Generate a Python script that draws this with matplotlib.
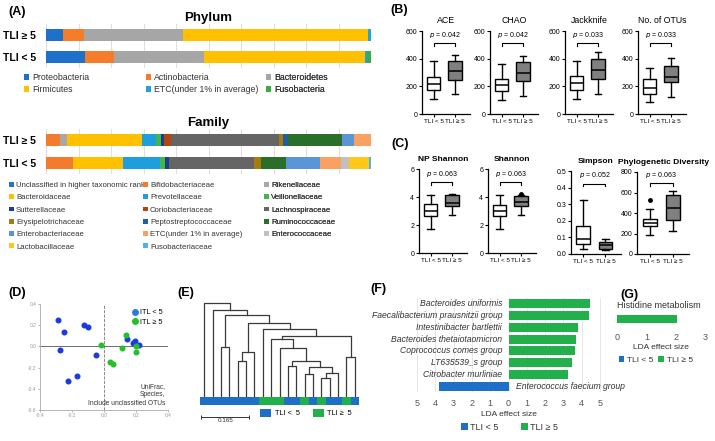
import matplotlib.pyplot as plt
from matplotlib.patches import Patch
from matplotlib.lines import Line2D

plt.rcParams['font.family'] = ['Liberation Sans', 'DejaVu Sans']

# -------------------------------
# DATA
# -------------------------------
groups = ["TLI < 5", "TLI ≥ 5"]
blue, green = "#1f6fc8", "#21b04b"

# (A) relative abundance (%)
phylum_names = ["Proteobacteria", "Actinobacteria", "Bacteroidetes",
                "Firmicutes", "ETC(under 1% in average)", "Fusobacteria"]
phylum_colors = ["#1f70c8", "#f57c2b", "#a6a6a6", "#ffc000", "#1fa2e0", "#3daa48"]
phylum_lt5 = [12.0, 8.9, 27.7, 49.5, 0.6, 1.2]
phylum_ge5 = [5.1, 6.5, 30.7, 56.9, 0.8, 0.0]

family_names = ["Unclassified in higher taxonomic rank", "Bifidobacteriaceae", "Rikenellaceae",
                "Bacteroidaceae", "Prevotellaceae", "Veillonellaceae",
                "Sutterellaceae", "Coriobacteriaceae", "Lachnospiraceae",
                "Erysipelotrichaceae", "Peptostreptococcaceae", "Ruminococcaceae",
                "Enterobacteriaceae", "ETC(under 1% in average)", "Enterococcaceae",
                "Lactobacillaceae", "Fusobacteriaceae"]
family_colors = ["#2a74c8", "#f47b2b", "#a8a8a8", "#ffc000", "#1e9fdc", "#44b549",
                 "#1b3f8b", "#b5440e", "#656565", "#a57c10", "#1f5fa0", "#2a6e2a",
                 "#5b95d8", "#f9a160", "#c0c0c0", "#ffc71a", "#4eb3e8"]
family_lt5 = [0, 8.3, 0, 15.3, 11.4, 1.5, 1.3, 0, 26.1, 2.3, 0, 7.6, 10.6, 6.5, 2.3, 6.2, 0.8]
family_ge5 = [0, 4.3, 2.1, 23.1, 4.2, 1.7, 0.9, 2.2, 33.1, 1.3, 1.6, 16.7, 3.6, 5.1, 0, 0, 0]

# (B)/(C) box summaries: [whislo, q1, med, q3, whishi]
b_titles = ["ACE", "CHAO", "Jackknife", "No. of OTUs"]
b_lt5 = [[110, 170, 220, 265, 380], [100, 165, 210, 255, 360],
         [110, 175, 225, 275, 385], [85, 145, 190, 250, 335]]
b_ge5 = [[145, 245, 310, 380, 430], [130, 240, 295, 375, 420],
         [145, 255, 315, 395, 450], [125, 230, 265, 350, 405]]
b_pvals = ["0.042", "0.042", "0.033", "0.033"]
b_bracket = [510, 510, 510, 510]

c_titles = ["NP Shannon", "Shannon", "Simpson", "Phylogenetic Diversity"]
c_lt5 = [[1.7, 2.65, 3.0, 3.5, 4.15], [1.7, 2.65, 3.0, 3.45, 4.15],
         [0.028, 0.06, 0.09, 0.17, 0.325], [185, 275, 305, 345, 435]]
c_ge5 = [[2.75, 3.35, 3.6, 4.15, 4.25], [2.75, 3.35, 3.65, 4.05, 4.15],
         [0.025, 0.033, 0.055, 0.07, 0.09], [225, 335, 450, 575, 610]]
c_fliers_lt5 = [[], [], [], [525]]
c_fliers_ge5 = [[], [4.22], [], []]
c_pvals = ["0.063", "0.063", "0.052", "0.063"]
c_bracket = [5.05, 5.05, 0.424, 690]
c_ymax = [6, 6, 0.5, 800]
c_ticks = [[0, 2, 4, 6], [0, 2, 4, 6], [0, 0.1, 0.2, 0.3, 0.4, 0.5], [0, 200, 400, 600, 800]]

# (D) PCoA coordinates
pcoa_lt5_x = [-0.288, -0.252, -0.127, -0.102, -0.273, -0.048, -0.167, -0.223, 0.146, 0.181, 0.192, 0.219]
pcoa_lt5_y = [0.25, 0.14, 0.203, 0.184, -0.034, -0.078, -0.278, -0.325, 0.066, 0.034, 0.047, 0.0125]
pcoa_ge5_x = [-0.019, 0.138, 0.113, 0.04, 0.056, 0.2, 0.202]
pcoa_ge5_y = [0.0125, 0.106, -0.0125, -0.15, -0.163, 0.003, -0.056]

# (E) UPGMA tree: leaf groups (0 = TLI<5, 1 = TLI>=5) and merges [a, b, height]
leaf_group = [0, 0, 0, 0, 0, 0, 0, 1, 1, 1, 0, 0, 1, 0, 1, 0, 0, 1, 0]
merges = [[2, 3, 0.168], [4, 5, 0.120], [20, 6, 0.149], [17, 18, 0.135],
          [10, 11, 0.104], [12, 13, 0.076], [14, 15, 0.064], [25, 16, 0.081],
          [24, 26, 0.099], [23, 27, 0.120], [9, 28, 0.163], [8, 29, 0.193],
          [30, 22, 0.204], [7, 31, 0.227], [21, 32, 0.247], [19, 33, 0.276],
          [1, 34, 0.290], [0, 35, 0.316]]
scale_bar = 0.165

# (F) LEfSe taxa
lda_taxa = ["Bacteroides uniformis", "Faecalibacterium prausnitzii group",
            "Intestinibacter bartlettii", "Bacteroides thetaiotaomicron",
            "Coprococcus comes group", "LT635539_s group", "Citrobacter murliniae",
            "Enterococcus faecium group"]
lda_scores = [4.44, 4.41, 3.81, 3.67, 3.62, 3.45, 3.24, -3.80]

# (G) pathway
path_names = ["Histidine metabolism"]
path_scores = [2.05]

# -------------------------------
# FIGURE
# -------------------------------
W, H = 715, 441
fig = plt.figure(figsize=(7.15, 4.41), dpi=100)


def px_axes(x, y, w, h):
    return fig.add_axes([x / W, 1 - (y + h) / H, w / W, h / H])


def panel(label, x, y):
    fig.text(x / W, 1 - y / H, label, fontsize=9, fontweight='bold', va='center')


# ---------- (A) stacked bars ----------
def stacked(ax, title, names, colors, lt5, ge5, legend_xs, legend_top, spacing, fs):
    left = [0.0, 0.0]
    for n, c, a, b in zip(names, colors, lt5, ge5):
        ax.barh([0, 1], [a, b], left=left, height=0.55, color=c, zorder=3)
        left = [left[0] + a, left[1] + b]
    ax.set_xlim(0, 100)
    ax.set_ylim(-0.5, 1.5)
    ax.set_xticks(range(0, 101, 10))
    ax.set_xticklabels([])
    ax.grid(axis='x', color='#dddddd', lw=0.7, zorder=0)
    ax.set_yticks([0, 1])
    ax.set_yticklabels(groups, fontsize=7.5, fontweight='bold')
    ax.tick_params(length=0, pad=7)
    for s in ax.spines.values():
        s.set_visible(False)
    ax.set_title(title, fontsize=9.5, fontweight='bold', pad=2)
    handles = [Patch(facecolor=c, edgecolor='none', label=n) for n, c in zip(names, colors)]
    for k, x in enumerate(legend_xs):
        leg = ax.legend(handles=handles[k::3], loc='upper left',
                        bbox_to_anchor=(x / W, 1 - legend_top / H),
                        bbox_transform=fig.transFigure, frameon=False,
                        fontsize=fs, handlelength=0.6, handleheight=0.6,
                        handletextpad=0.3, borderpad=0, borderaxespad=0,
                        labelspacing=spacing, labelcolor='#333333')
        ax.add_artist(leg)


ax_ph = px_axes(46, 24, 325, 44)
stacked(ax_ph, "Phylum", phylum_names, phylum_colors, phylum_lt5, phylum_ge5,
        [24, 146, 266], 73, 0.35, 6.3)
ax_fa = px_axes(46, 129, 325, 45)
stacked(ax_fa, "Family", family_names, family_colors, family_lt5, family_ge5,
        [9, 143, 264], 182, 0.65, 5.6)


# ---------- (B)/(C) boxplots ----------
def boxpanel(ax, title, lt5, ge5, fl_lt, fl_ge, p, yb, ymax, ticks, bold, tfs):
    stats = []
    for s, fl, lab in [(lt5, fl_lt, groups[0]), (ge5, fl_ge, groups[1])]:
        stats.append(dict(whislo=s[0], q1=s[1], med=s[2], q3=s[3], whishi=s[4],
                          fliers=fl, label=lab))
    bp = ax.bxp(stats, positions=[1, 2], widths=0.62, patch_artist=True,
                boxprops=dict(edgecolor='black', lw=1.0),
                medianprops=dict(color='black', lw=1.1),
                whiskerprops=dict(lw=1.0), capprops=dict(lw=1.0),
                flierprops=dict(marker='o', markerfacecolor='black',
                                markeredgecolor='black', markersize=2.5))
    for patch, fc in zip(bp['boxes'], ['white', '#808080']):
        patch.set_facecolor(fc)
    d = ymax * 0.03
    ax.plot([1, 1, 2, 2], [yb - d, yb, yb, yb - d], color='black', lw=0.8)
    ax.text(1.5, yb + ymax * 0.04, r"$\it{p}$ = " + p, ha='center', va='bottom', fontsize=5)
    ax.set_xlim(0.45, 2.7)
    ax.set_ylim(0, ymax)
    ax.set_yticks(ticks)
    if ymax < 1:
        ax.set_yticklabels([f"{t:.1f}" for t in ticks])
    ax.tick_params(labelsize=5, length=2, width=0.8, pad=1.5)
    ax.tick_params(axis='x', labelsize=4.6)
    for s in ['top', 'right']:
        ax.spines[s].set_visible(False)
    for s in ['left', 'bottom']:
        ax.spines[s].set_linewidth(0.9)
    ax.set_title(title, fontsize=tfs, pad=6, fontweight='bold' if bold else 'normal')


b_x = [422, 490, 565, 638]
for i in range(4):
    ax = px_axes(b_x[i], 31, 48, 83)
    boxpanel(ax, b_titles[i], b_lt5[i], b_ge5[i], [], [], b_pvals[i], b_bracket[i],
             600, [0, 200, 400, 600], False, 6.3)

c_rects = [(419, 169, 48, 84), (488, 169, 48, 84), (571, 171, 50, 83), (637, 172, 52, 82)]
for i in range(4):
    ax = px_axes(*c_rects[i])
    boxpanel(ax, c_titles[i], c_lt5[i], c_ge5[i], c_fliers_lt5[i], c_fliers_ge5[i],
             c_pvals[i], c_bracket[i], c_ymax[i], c_ticks[i], True, 6.0)

# ---------- (D) PCoA ----------
ax_d = px_axes(40, 304, 128, 106)
ax_d.axvline(0, color='#777777', lw=0.6, ls='--', zorder=1)
ax_d.axhline(0, color='#555555', lw=0.6, zorder=1)
ax_d.scatter(pcoa_lt5_x, pcoa_lt5_y, s=11, color='#1b3ae0', zorder=3)
ax_d.scatter(pcoa_ge5_x, pcoa_ge5_y, s=11, color='#22c02a', zorder=3)
ax_d.set_xlim(-0.4, 0.4)
ax_d.set_ylim(-0.6, 0.4)
ax_d.set_xticks([-0.4, -0.2, 0, 0.2, 0.4])
ax_d.set_yticks([-0.6, -0.4, -0.2, 0, 0.2, 0.4])
ax_d.xaxis.set_major_formatter(lambda v, p: f"{v:.1f}")
ax_d.yaxis.set_major_formatter(lambda v, p: f"{v:.1f}")
ax_d.tick_params(labelsize=3.5, length=1.5, width=0.5, pad=1, colors='#999999')
for s in ['top', 'right']:
    ax_d.spines[s].set_visible(False)
for s in ['left', 'bottom']:
    ax_d.spines[s].set_color('#aaaaaa')
    ax_d.spines[s].set_linewidth(0.6)
d_handles = [Line2D([], [], marker='o', ls='', color='#2a7be0', markersize=4, label="ITL < 5"),
             Line2D([], [], marker='o', ls='', color='#22c02a', markersize=4, label="ITL ≥ 5")]
ax_d.legend(handles=d_handles, loc='upper right', frameon=False, fontsize=5.3,
            handletextpad=0.2, borderpad=0.2, labelspacing=0.3, handlelength=1)
ax_d.text(0.98, 0.03, "UniFrac,\nSpecies,\nInclude unclassified OTUs", transform=ax_d.transAxes,
          ha='right', va='bottom', fontsize=4.8, color='#333333', linespacing=1.3)

# ---------- (E) dendrogram ----------
ax_e = px_axes(200, 300, 159, 105)
n = len(leaf_group)
pos = {i: (float(i), 0.0) for i in range(n)}
for k, (a, b, h) in enumerate(merges):
    xa, ha = pos[a]
    xb, hb = pos[b]
    ax_e.plot([xa, xa, xb, xb], [ha, h, h, hb], color='#3a3a3a', lw=0.9)
    pos[n + k] = ((xa + xb) / 2, h)
bar_h = 0.028
ax_e.bar(range(n), [bar_h] * n, bottom=-bar_h, width=1.0,
         color=[blue if g == 0 else green for g in leaf_group], zorder=3)
ax_e.set_xlim(-0.5, n - 0.5)
ax_e.set_ylim(-bar_h, 0.325)
ax_e.axis('off')
ax_e.plot([0.006, 0.31], [-0.11, -0.11], transform=ax_e.transAxes, color='#333333',
          lw=0.7, clip_on=False, marker='|', markersize=3, markeredgewidth=0.7)
ax_e.text(0.16, -0.15, str(scale_bar), transform=ax_e.transAxes, ha='center', va='center',
          fontsize=4.5, color='#333333')
e_handles = [Patch(facecolor=blue, label="TLI <  5"), Patch(facecolor=green, label="TLI ≥  5")]
fig.legend(handles=e_handles, loc='center', bbox_to_anchor=(0.428, 1 - 413 / H), ncol=2,
           frameon=False, fontsize=5.3, handlelength=1.5, handleheight=1.3,
           handletextpad=0.5, columnspacing=1.8)

# ---------- (F) LEfSe ----------
ax_f = px_axes(416, 298, 185, 94)
rows = range(len(lda_taxa))
ax_f.barh(rows, lda_scores, height=0.78, zorder=3,
          color=[green if s > 0 else blue for s in lda_scores])
for r, name, s in zip(rows, lda_taxa, lda_scores):
    if s > 0:
        ax_f.text(-0.35, r, name, ha='right', va='center', style='italic', fontsize=6.2,
                  color='#333333')
    else:
        ax_f.text(0.4, r, name, ha='left', va='center', style='italic', fontsize=6.2,
                  color='#333333')
ax_f.set_ylim(len(lda_taxa) - 0.5, -0.5)
ax_f.set_xlim(-5.05, 5.05)
ax_f.set_xticks(range(-5, 6))
ax_f.set_xticklabels([str(abs(t)) for t in range(-5, 6)])
ax_f.set_yticks([])
ax_f.grid(axis='x', color='#e3e3e3', lw=0.6, zorder=0)
ax_f.tick_params(length=0, labelsize=6.5, labelcolor='#555555', pad=5)
for s in ax_f.spines.values():
    s.set_visible(False)
ax_f.set_xlabel("LDA effect size", fontsize=6, color='#333333', labelpad=2)
f_handles = [Patch(facecolor=blue, label=groups[0]), Patch(facecolor=green, label=groups[1])]
fig.legend(handles=f_handles, loc='center', bbox_to_anchor=(0.713, 1 - 427 / H), ncol=2,
           frameon=False, fontsize=6.5, handlelength=0.7, handleheight=0.7,
           handletextpad=0.3, columnspacing=2.5, labelcolor='#333333')

# ---------- (G) pathway ----------
ax_g = px_axes(617, 311, 88, 16)
ax_g.barh(range(len(path_names)), path_scores, height=0.55, color=green)
ax_g.set_xlim(0, 3)
ax_g.set_ylim(-0.5, 0.5)
ax_g.set_xticks([0, 1, 2, 3])
ax_g.set_yticks([])
ax_g.tick_params(length=0, labelsize=6.5, labelcolor='#555555', pad=4)
for s in ax_g.spines.values():
    s.set_visible(False)
ax_g.text(0.0, 1.05, path_names[0], transform=ax_g.transAxes, ha='left', va='bottom',
          fontsize=6.5, color='#333333')
ax_g.set_xlabel("LDA effect size", fontsize=6, color='#333333', labelpad=2)
fig.legend(handles=f_handles, loc='center', bbox_to_anchor=(0.917, 1 - 360 / H), ncol=2,
           frameon=False, fontsize=6, handlelength=0.7, handleheight=0.7,
           handletextpad=0.3, columnspacing=0.6, labelcolor='#333333')

# panel labels
panel("(A)", 8, 12)
panel("(B)", 390, 10)
panel("(C)", 391, 144)
panel("(D)", 8, 293)
panel("(E)", 177, 293)
panel("(F)", 370, 289)
panel("(G)", 620, 295)

fig.savefig("out.png", dpi=100)
